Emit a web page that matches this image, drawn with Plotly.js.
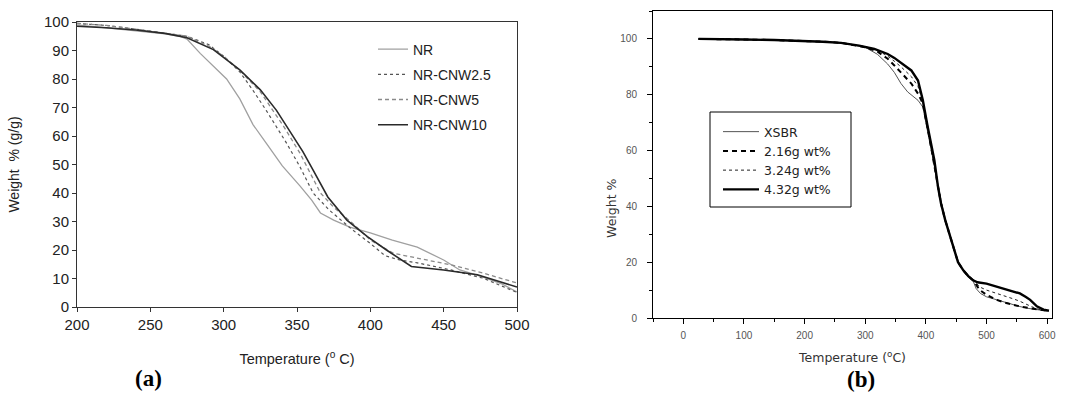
<!DOCTYPE html>
<html>
<head>
<meta charset="utf-8">
<script src="https://cdn.plot.ly/plotly-3.0.1.min.js"></script>
<style>html,body{margin:0;padding:0;background:#fff;}#chart{width:1084px;height:405px;}</style>
</head>
<body>
<div id="chart"></div>
<script>
// ---------- Panel (a): NR composites ----------
const tNR   = [200,220,240,260,270,275,284,293,302,311,320,329,340,352,360,366,375,386,400,415,432,450,461,477,490,500];
const wNR   = [99,98,97,95.8,95,94,89,84.5,80,73,64,57.5,49.5,42.5,37.5,33,30.5,28,26,23.5,21,16.5,13,10.5,8,5.3];
const tCNW25 = [200,220,240,260,275,290,300,311,320,329,343,352,361,372,388,400,410,420,432,455,477,500];
const wCNW25 = [99.5,98.8,97.5,96.2,95,92,88,82.5,76,69,57.4,49.2,40,34,27,22.3,18,16.5,15.5,13,10.1,5.1];
const tCNW5 = [200,220,240,260,275,290,300,311,325,341,352,366,375,388,400,416,432,455,477,500];
const wCNW5 = [99.5,98.8,97.5,96.2,95,91.5,88,83,75.5,63.3,54,40,35,29.3,23.5,18.8,17.1,14.8,11.9,8.4];
const tCNW10 = [200,220,240,260,275,293,311,325,336,347,354,361,371,384,398,411,428,450,473,500];
const wCNW10 = [98.5,98,97.2,96,94.5,90.3,83.2,76.2,69,60,54.5,48,38.6,30.5,24.7,20,14.2,13,11.3,7];
const namesA = ["NR","NR-CNW2.5","NR-CNW5","NR-CNW10"];
const ticksA_x = [200,250,300,350,400,450,500];
const ticksA_y = [0,10,20,30,40,50,60,70,80,90,100];

// ---------- Panel (b): XSBR composites ----------
const tXSBR = [25,60,100,150,200,230,260,290,300,320,337,348,359,370,387,395,400,405,414,420,426,433,441,448,455,463,472,478,483,490,500,515,528,542,555,570,583,600];
const wXSBR = [100,100,99.8,99.6,99.3,99,98.6,97.6,97,94.5,91,88,84,81,78,75.6,70,64,54,47.5,41,34.5,28.5,23.5,19.5,16.5,14.2,13.2,10.5,8.8,7.6,6.6,5.9,5,4.1,3.4,2.9,2.5];
const t216 = [25,60,100,150,200,230,260,290,300,320,337,348,359,376,387,395,400,403,410,416,420,425,432,440,447,453,462,470,478,489,500,517,530,544,558,572,586,600];
const w216 = [100,100,99.8,99.6,99.3,99,98.6,97.6,97,95.5,92.9,90.5,88,84,80.4,76.8,71,68,59.5,52,47,41,35,29,24,20,17,15,13.5,10,8.3,6.5,5.5,4.7,4,3.5,3,2.6];
const t324 = [25,60,100,150,200,230,260,290,300,320,337,348,359,376,387,395,400,403,410,416,420,425,432,440,447,453,462,470,478,490,500,515,530,545,555,565,575,588,600];
const w324 = [100,100,99.8,99.6,99.3,99,98.6,97.6,97.2,96,93.8,92,90,86.5,83,77.5,71.5,68,59.5,52,47,41,35,29,24,20,17,15,13.5,11,10,9,8,6.8,6,5,4,3,2.6];
const t432 = [25,60,100,150,200,230,260,290,315,337,348,365,376,387,395,403,414,420,425,432,440,447,453,462,470,478,485,500,515,528,542,555,565,572,583,594,603];
const w432 = [100,100,99.8,99.6,99.3,99,98.6,97.6,96.4,94.6,93.2,90.5,88.7,85.1,78,68.5,56.5,47,41,35,29,24,20,17,15,13.5,12.8,12.3,11.4,10.6,9.8,8.8,7.5,6.5,4.2,3,2.6];
const namesB = ["XSBR","2.16g wt%","3.24g wt%","4.32g wt%"];
const ticksB_x = [0,100,200,300,400,500,600];
const ticksB_y = [0,20,40,60,80,100];

const traces = [
  {x:tNR, y:wNR, name:namesA[0], mode:"lines", line:{color:"#a0a0a0", width:1.3}, xaxis:"x", yaxis:"y", legend:"legend", legendgroup:"a1"},
  {x:tCNW25, y:wCNW25, name:namesA[1], mode:"lines", line:{color:"#555", width:1.2, dash:"dot"}, xaxis:"x", yaxis:"y", legend:"legend", legendgroup:"a2"},
  {x:tCNW5, y:wCNW5, name:namesA[2], mode:"lines", line:{color:"#8a8a8a", width:1.3, dash:"4px,3px"}, xaxis:"x", yaxis:"y", legend:"legend", legendgroup:"a3"},
  {x:tCNW10, y:wCNW10, name:namesA[3], mode:"lines", line:{color:"#2a2a2a", width:1.6}, xaxis:"x", yaxis:"y", legend:"legend", legendgroup:"a4"},
  {x:tXSBR, y:wXSBR, name:namesB[0], mode:"lines", line:{color:"#555", width:1}, xaxis:"x2", yaxis:"y2", legend:"legend2", legendgroup:"b1"},
  {x:t216, y:w216, name:namesB[1], mode:"lines", line:{color:"#000", width:2, dash:"5px,4px"}, xaxis:"x2", yaxis:"y2", legend:"legend2", legendgroup:"b2"},
  {x:t324, y:w324, name:namesB[2], mode:"lines", line:{color:"#222", width:1, dash:"dot"}, xaxis:"x2", yaxis:"y2", legend:"legend2", legendgroup:"b3"},
  {x:t432, y:w432, name:namesB[3], mode:"lines", line:{color:"#000", width:2.4}, xaxis:"x2", yaxis:"y2", legend:"legend2", legendgroup:"b4"}
];

const W = 1084, H = 405;
const fx = px => px / W;
const fy = py => 1 - py / H;
const SANS = "Arial, 'Liberation Sans', sans-serif";
const WIDE = "'DejaVu Sans', Verdana, sans-serif";

const layout = {
  width: W, height: H,
  margin: {l:0, r:0, t:0, b:0},
  paper_bgcolor: "#fff", plot_bgcolor: "#fff",
  font: {family: SANS, color: "#222"},
  showlegend: true,
  xaxis: {
    domain: [fx(77), fx(517)], range: [200, 500], tickvals: ticksA_x,
    ticks: "outside", ticklen: 4, tickcolor: "#333", showline: true, linecolor: "#333", linewidth: 1, mirror: true,
    showgrid: false, zeroline: false, tickfont: {size: 15, color: "#222"},
    title: {text: "Temperature (<sup>o</sup> C)", font: {size: 14.5, color: "#222"}, standoff: 21},
    anchor: "y", automargin: false
  },
  yaxis: {
    domain: [fy(307), fy(22)], range: [0, 100], tickvals: ticksA_y,
    ticks: "outside", ticklen: 4, tickcolor: "#333", showline: true, linecolor: "#333", linewidth: 1, mirror: true,
    showgrid: false, zeroline: false, tickfont: {size: 15, color: "#222"},
    title: {text: "Weight  % (g/g)", font: {size: 14, color: "#222"}, standoff: 21},
    anchor: "x", automargin: false
  },
  xaxis2: {
    domain: [fx(653), fx(1052)], range: [-50, 608], tickvals: ticksB_x,
    ticks: "outside", ticklen: 5, tickcolor: "#000", showline: true, linecolor: "#000", linewidth: 1, mirror: true,
    minor: {ticks: "outside", dtick: 50, ticklen: 3, tickcolor: "#000"},
    showgrid: false, zeroline: false, tickfont: {size: 10, color: "#555"}, ticklabelstandoff: 3,
    title: {text: "Temperature (<sup>o</sup>C)", font: {family: WIDE, size: 12.5, color: "#333"}, standoff: 13},
    anchor: "y2", automargin: false
  },
  yaxis2: {
    domain: [fy(318), fy(11)], range: [0, 110], tickvals: ticksB_y,
    ticks: "outside", ticklen: 5, tickcolor: "#000", showline: true, linecolor: "#000", linewidth: 1, mirror: true,
    minor: {ticks: "outside", dtick: 10, ticklen: 3, tickcolor: "#000"},
    showgrid: false, zeroline: false, tickfont: {size: 10, color: "#555"}, ticklabelstandoff: 8,
    anchor: "x2", automargin: false
  },
  legend: {
    x: fx(373), y: fy(33.5), xanchor: "left", yanchor: "top",
    bgcolor: "rgba(0,0,0,0)", borderwidth: 0, tracegroupgap: 4,
    font: {size: 14, color: "#222"}, itemwidth: 30
  },
  legend2: {
    x: fx(718), y: fy(117), xanchor: "left", yanchor: "top",
    bgcolor: "rgba(0,0,0,0)", borderwidth: 0, tracegroupgap: 0,
    font: {family: WIDE, size: 12.5, color: "#222"}, itemwidth: 36
  },
  shapes: [
    {type: "rect", xref: "paper", yref: "paper", x0: fx(710), x1: fx(851), y0: fy(207), y1: fy(112),
     line: {color: "#000", width: 1}, fillcolor: "#fff", layer: "above"}
  ],
  annotations: [
    {text: "Weight %", textangle: -90, x: fx(611), y: fy(208), xref: "paper", yref: "paper", showarrow: false,
     font: {family: WIDE, size: 12.5, color: "#333"}},
    {text: "<b>(a)</b>", x: fx(133), y: fy(393), xref: "paper", yref: "paper", showarrow: false,
     font: {family: "'Liberation Serif', 'Times New Roman', serif", size: 23, color: "#000"}},
    {text: "<b>(b)</b>", x: fx(877), y: fy(394), xref: "paper", yref: "paper", showarrow: false,
     font: {family: "'Liberation Serif', 'Times New Roman', serif", size: 23, color: "#000"}}
  ]
};

Plotly.newPlot("chart", traces, layout, {staticPlot: true, displayModeBar: false});
</script>
</body>
</html>
